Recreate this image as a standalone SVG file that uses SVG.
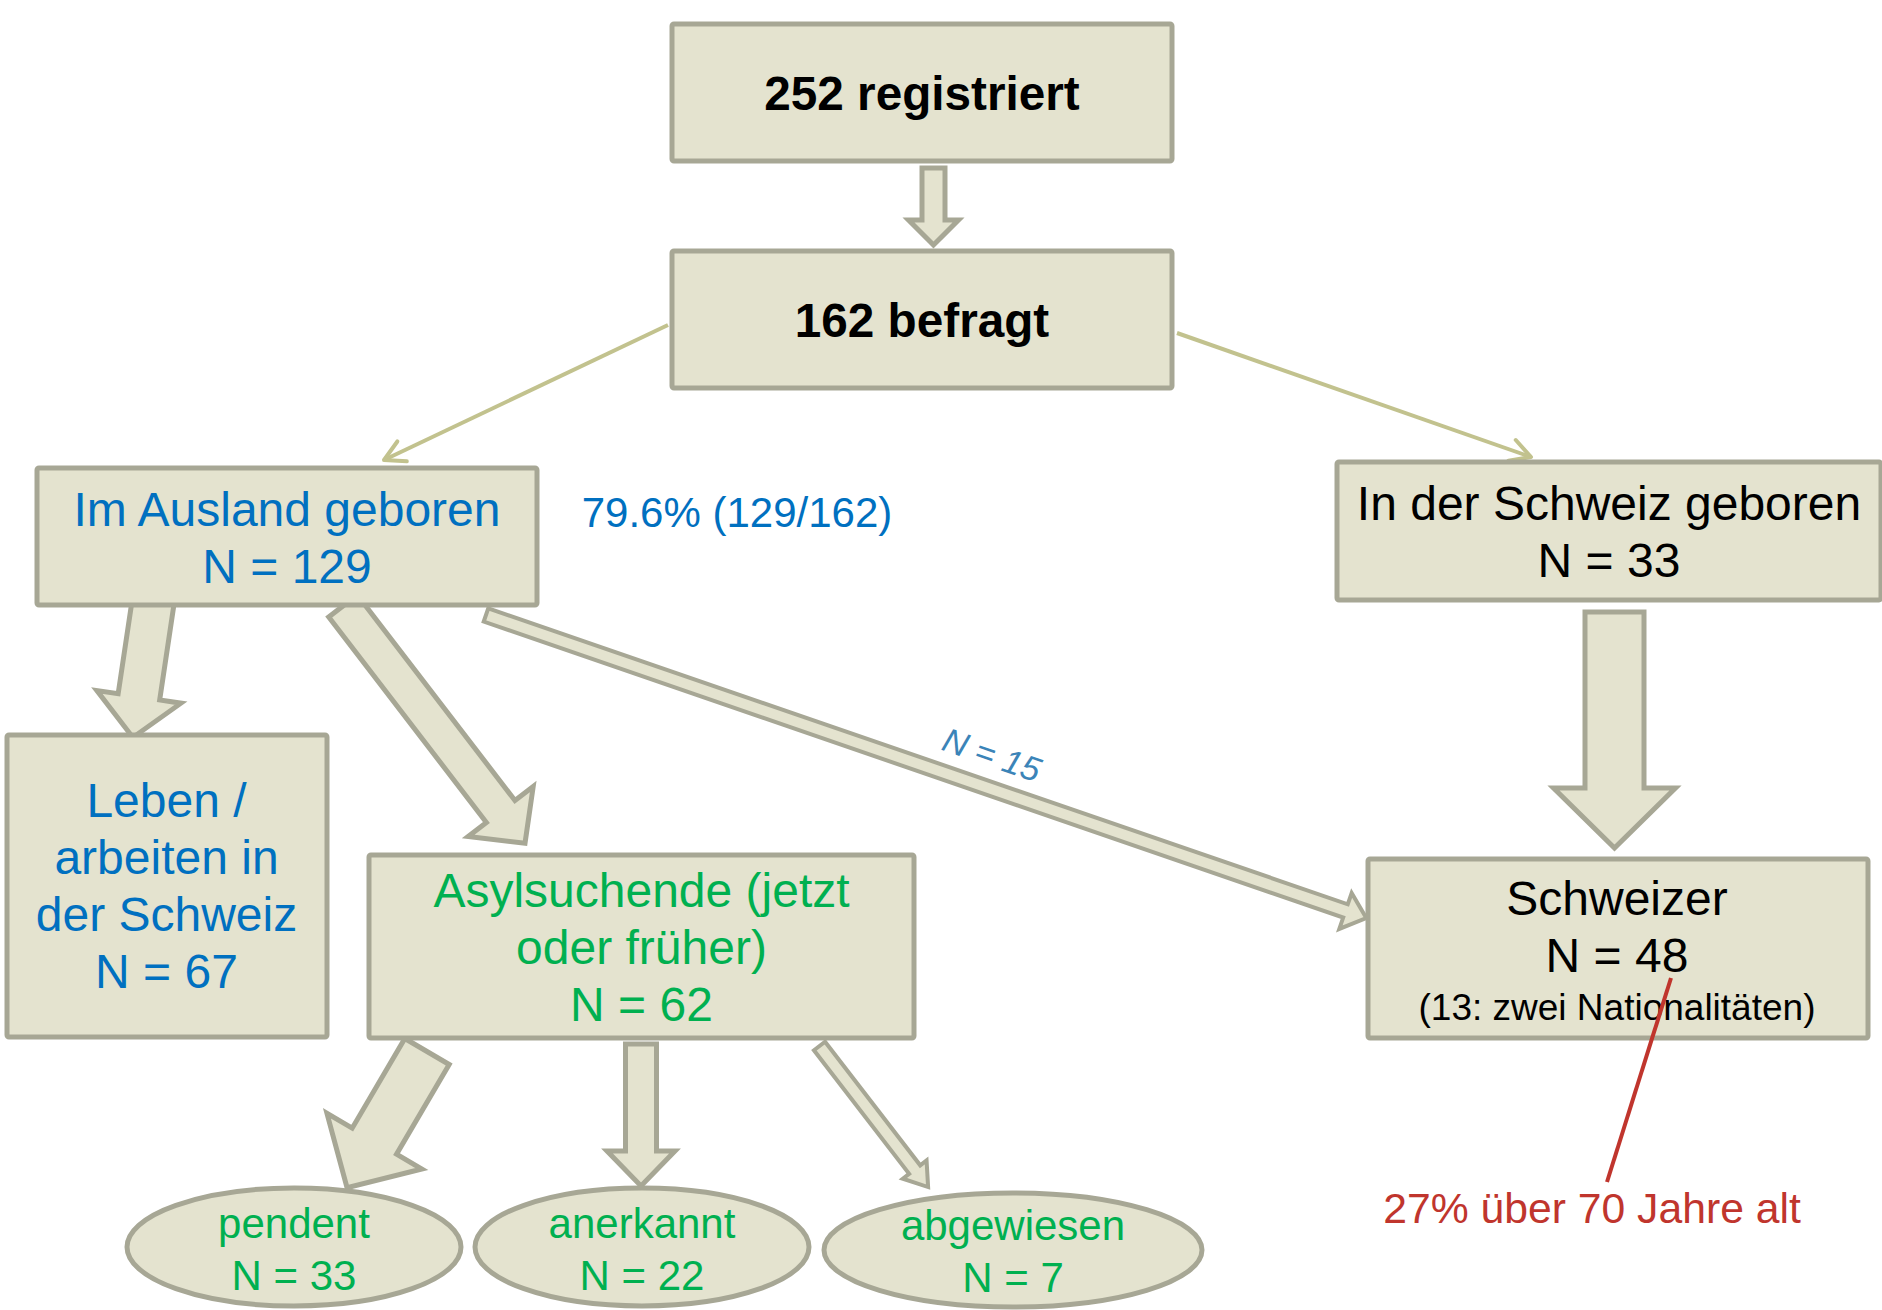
<svg xmlns="http://www.w3.org/2000/svg" width="1882" height="1310" viewBox="0 0 1882 1310">
  <defs>
    <style>
      .box { fill: #e4e3cf; stroke: #a7a795; stroke-width: 5; }
      .blk { fill: #e4e3cf; stroke: #a7a795; stroke-width: 5; stroke-linejoin: miter; }
      .blk-thin { fill: #e4e3cf; stroke: #a7a795; stroke-width: 4; stroke-linejoin: miter; }
      .line { fill: none; stroke: #c2c28e; stroke-width: 4; }
      text { font-family: "Liberation Sans", Arial, sans-serif; text-anchor: middle; }
      .t47 { font-size: 48px; }
      .bold { font-weight: bold; font-size: 47.7px; }
      .blue { fill: #0070c0; }
      .green { fill: #00b050; }
      .black { fill: #000000; }
      .red { fill: #c0352d; }
    </style>
    <marker id="open" markerUnits="userSpaceOnUse" viewBox="-26 -16 30 32" markerWidth="30" markerHeight="32" refX="0" refY="0" orient="auto">
      <path d="M-20,-11 L0,0 L-20,11" fill="none" stroke="#c2c28e" stroke-width="4" stroke-linecap="round" stroke-linejoin="round"/>
    </marker>
  </defs>
  <rect width="1882" height="1310" fill="#ffffff"/>

  <g id="connectors">
    <line class="line" x1="668" y1="325" x2="384" y2="460" marker-end="url(#open)"/>
    <line class="line" x1="1177" y1="333" x2="1531" y2="457" marker-end="url(#open)"/>
    <path class="blk" transform="translate(933.5,168) rotate(90)" d="M0,-11.5 L52,-11.5 L52,-25 L77,0 L52,25 L52,11.5 L0,11.5 Z"/>
    <path class="blk" transform="translate(154,596) rotate(98.5)" d="M0,-21 L102,-21 L102,-42.5 L143,0 L102,42.5 L102,21 L0,21 Z"/>
    <path class="blk" transform="translate(343,606) rotate(52.5)" d="M0,-18 L259,-18 L259,-41 L299,0 L259,41 L259,18 L0,18 Z"/>
    <path class="blk" transform="translate(1614.5,612) rotate(90)" d="M0,-29.5 L176,-29.5 L176,-61 L236,0 L176,61 L176,29.5 L0,29.5 Z"/>
    <path class="blk-thin" transform="translate(486,615) rotate(19)" d="M0,-7 L909,-7 L909,-19 L931,0 L909,19 L909,7 L0,7 Z"/>
    <path class="blk" transform="translate(427,1051.5) rotate(120.4)" d="M0,-25.7 L104,-25.7 L104,-55 L158,0 L104,55 L104,25.7 L0,25.7 Z"/>
    <path class="blk" transform="translate(641,1044) rotate(90)" d="M0,-15.5 L107,-15.5 L107,-34 L142,0 L107,34 L107,15.5 L0,15.5 Z"/>
    <path class="blk-thin" transform="translate(819.5,1046) rotate(52.4)" d="M0,-7 L156,-7 L156,-15 L178,0 L156,15 L156,7 L0,7 Z"/>
    <text x="0" y="0" font-size="34" font-style="italic" fill="#3b84b8" transform="translate(988,766) rotate(19)">N = 15</text>
  </g>

  <g id="n-registriert">
    <rect class="box" x="672" y="24" width="500" height="137" rx="2"/>
    <text class="bold black" x="922" y="110">252 registriert</text>
  </g>

  <g id="n-befragt">
    <rect class="box" x="672" y="251" width="500" height="137" rx="2"/>
    <text class="bold black" x="922" y="337">162 befragt</text>
  </g>

  <g id="n-ausland">
    <rect class="box" x="37" y="468" width="500" height="137" rx="2"/>
    <text class="t47 blue" x="287" y="526">Im Ausland geboren</text>
    <text class="t47 blue" x="287" y="583">N = 129</text>
  </g>

  <g id="n-prozent">
    <text class="blue" font-size="42" x="737" y="527">79.6% (129/162)</text>
  </g>

  <g id="n-schweiz-geboren">
    <rect class="box" x="1337" y="462" width="544" height="138" rx="2"/>
    <text class="t47 black" x="1609" y="520">In der Schweiz geboren</text>
    <text class="t47 black" x="1609" y="577">N = 33</text>
  </g>

  <g id="n-leben">
    <rect class="box" x="7" y="735" width="320" height="302" rx="2"/>
    <text class="t47 blue" x="166.5" y="817">Leben /</text>
    <text class="t47 blue" x="166.5" y="874">arbeiten in</text>
    <text class="t47 blue" x="166.5" y="931">der Schweiz</text>
    <text class="t47 blue" x="166.5" y="988">N = 67</text>
  </g>

  <g id="n-asyl">
    <rect class="box" x="369" y="855" width="545" height="183" rx="2"/>
    <text class="t47 green" x="641.5" y="907">Asylsuchende (jetzt</text>
    <text class="t47 green" x="641.5" y="964">oder früher)</text>
    <text class="t47 green" x="641.5" y="1021">N = 62</text>
  </g>

  <g id="n-schweizer">
    <rect class="box" x="1368" y="859" width="500" height="179" rx="2"/>
    <text class="t47 black" x="1617" y="915">Schweizer</text>
    <text class="t47 black" x="1617" y="972">N = 48</text>
    <text class="black" font-size="37" x="1617" y="1020">(13: zwei Nationalitäten)</text>
  </g>

  <g id="n-pendent">
    <ellipse class="box" cx="294" cy="1247" rx="167" ry="59"/>
    <text class="green" font-size="42" x="294" y="1238">pendent</text>
    <text class="green" font-size="42" x="294" y="1290">N = 33</text>
  </g>

  <g id="n-anerkannt">
    <ellipse class="box" cx="642" cy="1247" rx="167" ry="59"/>
    <text class="green" font-size="42" x="642" y="1238">anerkannt</text>
    <text class="green" font-size="42" x="642" y="1290">N = 22</text>
  </g>

  <g id="n-abgewiesen">
    <ellipse class="box" cx="1013" cy="1250" rx="189" ry="57"/>
    <text class="green" font-size="42" x="1013" y="1240">abgewiesen</text>
    <text class="green" font-size="42" x="1013" y="1292">N = 7</text>
  </g>

  <g id="n-note-alter">
    <line x1="1671" y1="978" x2="1607" y2="1182" stroke="#c0352d" stroke-width="4"/>
    <text class="red" font-size="42.7" x="1592" y="1223">27% über 70 Jahre alt</text>
  </g>
</svg>
